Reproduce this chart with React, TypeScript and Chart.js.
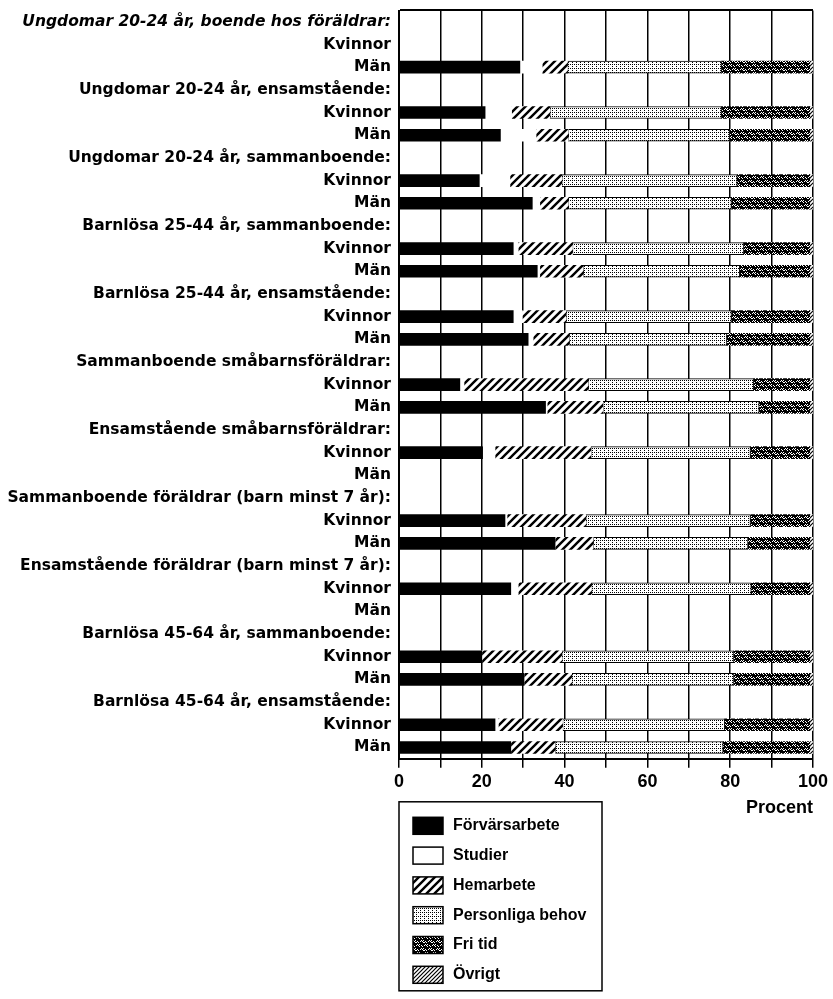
import React, { useEffect, useRef } from "react";
import { Chart, registerables } from "chart.js";
Chart.register(...registerables);

const FONT = '"Liberation Sans", Arial, sans-serif';
const LABEL_FONT = '"DejaVu Sans", Verdana, sans-serif';

const groups = [
  "Ungdomar 20-24 år, boende hos föräldrar:",
  "Ungdomar 20-24 år, ensamstående:",
  "Ungdomar 20-24 år, sammanboende:",
  "Barnlösa 25-44 år, sammanboende:",
  "Barnlösa 25-44 år, ensamstående:",
  "Sammanboende småbarnsföräldrar:",
  "Ensamstående småbarnsföräldrar:",
  "Sammanboende föräldrar (barn minst 7 år):",
  "Ensamstående föräldrar (barn minst 7 år):",
  "Barnlösa 45-64 år, sammanboende:",
  "Barnlösa 45-64 år, ensamstående:",
];
const sexLabels = ["Kvinnor", "Män"];
const seriesNames = ["Förvärsarbete", "Studier", "Hemarbete", "Personliga behov", "Fri tid", "Övrigt"];

// values per group (percent), null = no bar
const forvarsK = [null, 20.8, 19.4, 27.6, 27.6, 14.7, 20.2, 25.6, 27.0, 20.0, 23.2];
const forvarsM = [29.2, 24.5, 32.2, 33.4, 31.2, 35.4, null, 37.7, null, 30.2, 27.0];
const studierK = [null, 6.4, 7.4, 1.2, 2.2, 1.0, 3.0, 0.5, 1.8, 0, 0.8];
const studierM = [5.4, 8.6, 1.8, 0.6, 1.2, 0.4, null, 0, null, 0, 0];
const hemK = [null, 9.2, 12.5, 13.1, 10.5, 30.0, 23.1, 19.0, 17.7, 19.3, 15.5];
const hemM = [6.1, 7.8, 6.9, 10.5, 8.7, 13.4, null, 9.2, null, 11.5, 10.7];
const persK = [null, 41.5, 42.4, 41.4, 40.0, 40.0, 38.6, 39.8, 38.6, 41.6, 39.2];
const persM = [37.2, 39.0, 39.4, 37.8, 38.1, 37.8, null, 37.4, null, 39.2, 40.6];
const friK = [null, 21.3, 17.5, 15.9, 18.9, 13.5, 14.3, 14.3, 14.1, 18.3, 20.5];
const friM = [21.3, 19.3, 18.9, 16.9, 20.0, 12.2, null, 14.9, null, 18.3, 20.9];
const ovrK = [null, 0.8, 0.8, 0.8, 0.8, 0.8, 0.8, 0.8, 0.8, 0.8, 0.8];
const ovrM = [0.8, 0.8, 0.8, 0.8, 0.8, 0.8, null, 0.8, null, 0.8, 0.8];

const xTicks = [0, 20, 40, 60, 80, 100];

function makePattern(kind: string): CanvasPattern | string {
  const c = document.createElement("canvas");
  const ctx = c.getContext("2d")!;
  if (kind === "hatch") {
    const s = 8;
    c.width = s; c.height = s;
    ctx.fillStyle = "#fff"; ctx.fillRect(0, 0, s, s);
    ctx.strokeStyle = "#000"; ctx.lineWidth = 2.4;
    ctx.beginPath();
    ctx.moveTo(-2, s + 2); ctx.lineTo(s + 2, -2);
    ctx.moveTo(-2, 2); ctx.lineTo(2, -2);
    ctx.moveTo(s - 2, s + 2); ctx.lineTo(s + 2, s - 2);
    ctx.stroke();
  } else if (kind === "dense") {
    const s = 4;
    c.width = s; c.height = s;
    ctx.fillStyle = "#fff"; ctx.fillRect(0, 0, s, s);
    ctx.strokeStyle = "#000"; ctx.lineWidth = 1.2;
    ctx.beginPath();
    ctx.moveTo(-1, s + 1); ctx.lineTo(s + 1, -1);
    ctx.moveTo(-1, 1); ctx.lineTo(1, -1);
    ctx.moveTo(s - 1, s + 1); ctx.lineTo(s + 1, s - 1);
    ctx.stroke();
  } else if (kind === "dots") {
    const s = 4;
    c.width = s; c.height = s;
    ctx.fillStyle = "#fff"; ctx.fillRect(0, 0, s, s);
    ctx.fillStyle = "#000";
    ctx.fillRect(0, 0, 1, 1); ctx.fillRect(2, 0, 1, 1);
    ctx.fillRect(0, 2, 1, 1);
  } else if (kind === "fri") {
    const s = 8;
    c.width = s; c.height = s;
    ctx.fillStyle = "#000"; ctx.fillRect(0, 0, s, s);
    ctx.fillStyle = "#fff";
    const px = [
      [0, 1], [1, 0], [2, 1], [3, 2], [3, 0],
      [4, 5], [5, 4], [6, 5], [7, 6], [7, 4],
      [5, 1], [6, 2], [1, 5], [2, 6], [0, 6],
    ];
    px.forEach(([x, y]) => ctx.fillRect(x, y, 1, 1));
  }
  return ctx.createPattern(c, "repeat") || "#888";
}

const legendBox = {
  id: "legendBox",
  afterDraw(chart: any) {
    const ctx = chart.ctx as CanvasRenderingContext2D;
    const a = chart.chartArea;
    const x0 = a.left, y0 = a.bottom + 43, w = 203, h = 189;
    ctx.save();
    ctx.lineWidth = 1.5;
    ctx.strokeStyle = "#000";
    ctx.strokeRect(x0, y0, w, h);
    chart.data.datasets.forEach((ds: any, i: number) => {
      const cy = y0 + 24 + i * 29.8;
      ctx.fillStyle = ds.backgroundColor;
      ctx.fillRect(x0 + 14, cy - 8.5, 30, 17);
      ctx.lineWidth = 1.5;
      ctx.strokeRect(x0 + 14, cy - 8.5, 30, 17);
      ctx.fillStyle = "#000";
      ctx.font = `bold 16px ${FONT}`;
      ctx.textBaseline = "middle";
      ctx.textAlign = "left";
      ctx.fillText(ds.label, x0 + 54, cy);
    });
    ctx.restore();
  },
};

export default function App() {
  const ref = useRef<HTMLCanvasElement>(null);
  useEffect(() => {
    document.body.style.margin = "0";
    const labels: string[] = [];
    groups.forEach((g) => { labels.push(g, sexLabels[0], sexLabels[1]); });
    const rows = (k: (number | null)[], m: (number | null)[]) => {
      const out: (number | null)[] = [];
      for (let i = 0; i < groups.length; i++) out.push(null, k[i], m[i]);
      return out;
    };
    const fills = ["#000", "#fff", makePattern("hatch"), makePattern("dots"), makePattern("fri"), makePattern("dense")];
    const series = [
      rows(forvarsK, forvarsM),
      rows(studierK, studierM),
      rows(hemK, hemM),
      rows(persK, persM),
      rows(friK, friM),
      rows(ovrK, ovrM),
    ];
    const chart = new Chart(ref.current!, {
      type: "bar",
      data: {
        labels,
        datasets: series.map((d, i) => ({
          label: seriesNames[i],
          data: d,
          backgroundColor: fills[i] as any,
          borderColor: "#000",
          borderWidth: i === 3 ? 1 : 0,
          borderSkipped: false,
          barThickness: 12,
        })),
      },
      plugins: [legendBox],
      options: {
        indexAxis: "y",
        responsive: false,
        animation: false,
        layout: { padding: { top: 10.5, right: 20, bottom: 180, left: 0 } },
        plugins: { legend: { display: false }, tooltip: { enabled: false } },
        scales: {
          x: {
            stacked: true,
            min: 0,
            max: 100,
            afterFit: (s: any) => { s.paddingLeft = 0; s.paddingRight = 0; },
            grid: { color: "#000", lineWidth: 1.5, tickLength: 9, drawTicks: true },
            border: { color: "#000", width: 2 },
            ticks: {
              stepSize: 10,
              autoSkip: false,
              maxRotation: 0,
              padding: 3,
              color: "#000",
              font: { family: FONT, size: 18, weight: "bold" },
              callback: (v: any) => (xTicks.includes(Number(v)) ? String(v) : ""),
            },
            title: {
              display: true,
              text: "Procent",
              align: "end",
              color: "#000",
              padding: { top: 2, bottom: 0 },
              font: { family: FONT, size: 18, weight: "bold" },
            },
          },
          y: {
            stacked: true,
            afterFit: (s: any) => { s.width = 399; s.paddingTop = 0; s.paddingBottom = 0; },
            grid: {
              drawTicks: false,
              lineWidth: 2,
              color: (c: any) => (c.index === 0 ? "#000" : "rgba(0,0,0,0)"),
            },
            border: { color: "#000", width: 2 },
            ticks: {
              autoSkip: false,
              padding: 8,
              color: "#000",
              font: (c: any) => ({
                family: LABEL_FONT,
                size: 15.5,
                weight: "bold",
                style: c.index === 0 ? "italic" : "normal",
              }),
            },
          },
        },
      } as any,
    });
    return () => chart.destroy();
  }, []);
  return <canvas ref={ref} width={833} height={999} style={{ display: "block" }} />;
}
